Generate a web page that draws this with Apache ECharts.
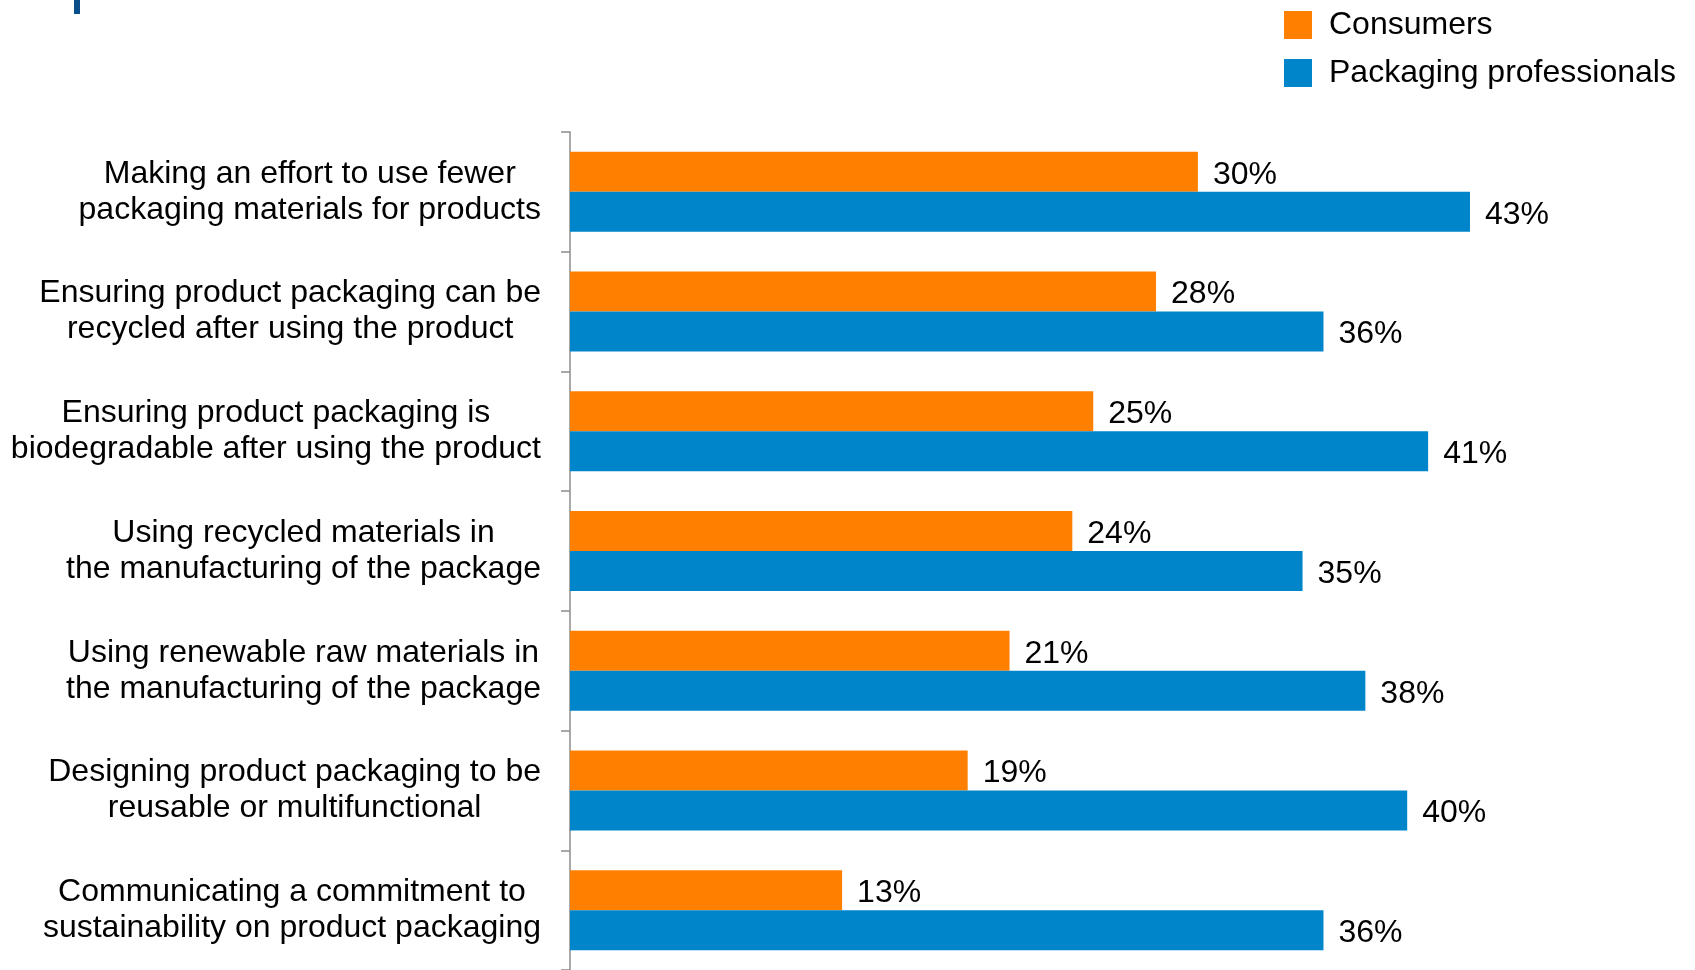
<!DOCTYPE html>
<html>
<head>
<meta charset="utf-8">
<title>Packaging sustainability priorities</title>
<script src="https://cdn.jsdelivr.net/npm/echarts@6/dist/echarts.min.js"></script>
<style>
  html, body { margin: 0; padding: 0; background: #ffffff; }
  #chart { width: 1695px; height: 970px; }
</style>
</head>
<body>
<div id="chart"></div>
<script>
// Survey items (top to bottom)
const categories = [
  'Making an effort to use fewer\npackaging materials for products',
  'Ensuring product packaging can be\nrecycled after using the product',
  'Ensuring product packaging is\nbiodegradable after using the product',
  'Using recycled materials in\nthe manufacturing of the package',
  'Using renewable raw materials in\nthe manufacturing of the package',
  'Designing product packaging to be\nreusable or multifunctional',
  'Communicating a commitment to\nsustainability on product packaging'
];
const seriesNames = ['Consumers', 'Packaging professionals'];
const consumers = [30, 28, 25, 24, 21, 19, 13];
const professionals = [43, 36, 41, 35, 38, 40, 36];

const FONT = '"Liberation Sans", Arial, sans-serif';
const ORANGE = '#FF8000';
const BLUE = '#0085CA';

const chart = echarts.init(document.getElementById('chart'), null, { renderer: 'canvas' });

const barLabel = {
  show: true,
  position: 'right',
  distance: 15,
  offset: [0, 3],
  formatter: '{c}%',
  color: '#000',
  fontSize: 32,
  fontFamily: FONT
};

chart.setOption({
  animation: false,
  backgroundColor: '#ffffff',
  graphic: [
    // heading accent bar at the top-left edge
    { type: 'rect', left: 74, top: 0, shape: { width: 6, height: 14 }, style: { fill: '#0B4F8A' } }
  ],
  legend: {
    orient: 'vertical',
    left: 1284,
    top: 9,
    padding: 0,
    itemWidth: 28,
    itemHeight: 28,
    itemGap: 16,
    icon: 'rect',
    data: seriesNames,
    textStyle: { color: '#000', fontSize: 32, fontFamily: FONT, padding: [0, 0, 0, 12] }
  },
  grid: { left: 570, top: 132, width: 1046.5, height: 840, containLabel: false },
  xAxis: {
    type: 'value',
    min: 0,
    max: 50,
    show: false,
    splitLine: { show: false }
  },
  yAxis: {
    type: 'category',
    inverse: true,
    data: categories,
    axisLine: { show: true, lineStyle: { color: '#8C8C8C', width: 1.5 } },
    axisTick: { show: true, length: 9, lineStyle: { color: '#8C8C8C', width: 1.5 } },
    axisLabel: {
      margin: 29,
      align: 'right',
      color: '#000',
      fontSize: 32,
      lineHeight: 36,
      fontFamily: FONT,
      formatter: v => v.split('\n').map(s => '{c|' + s + '}').join('\n'),
      rich: {
        c: { align: 'center', color: '#000', fontSize: 32, lineHeight: 36, fontFamily: FONT }
      }
    }
  },
  series: [
    {
      name: seriesNames[0],
      type: 'bar',
      data: consumers,
      barWidth: 40,
      barGap: '0%',
      itemStyle: { color: ORANGE },
      label: barLabel
    },
    {
      name: seriesNames[1],
      type: 'bar',
      data: professionals,
      barWidth: 40,
      barGap: '0%',
      itemStyle: { color: BLUE },
      label: barLabel
    }
  ]
});
</script>
</body>
</html>
